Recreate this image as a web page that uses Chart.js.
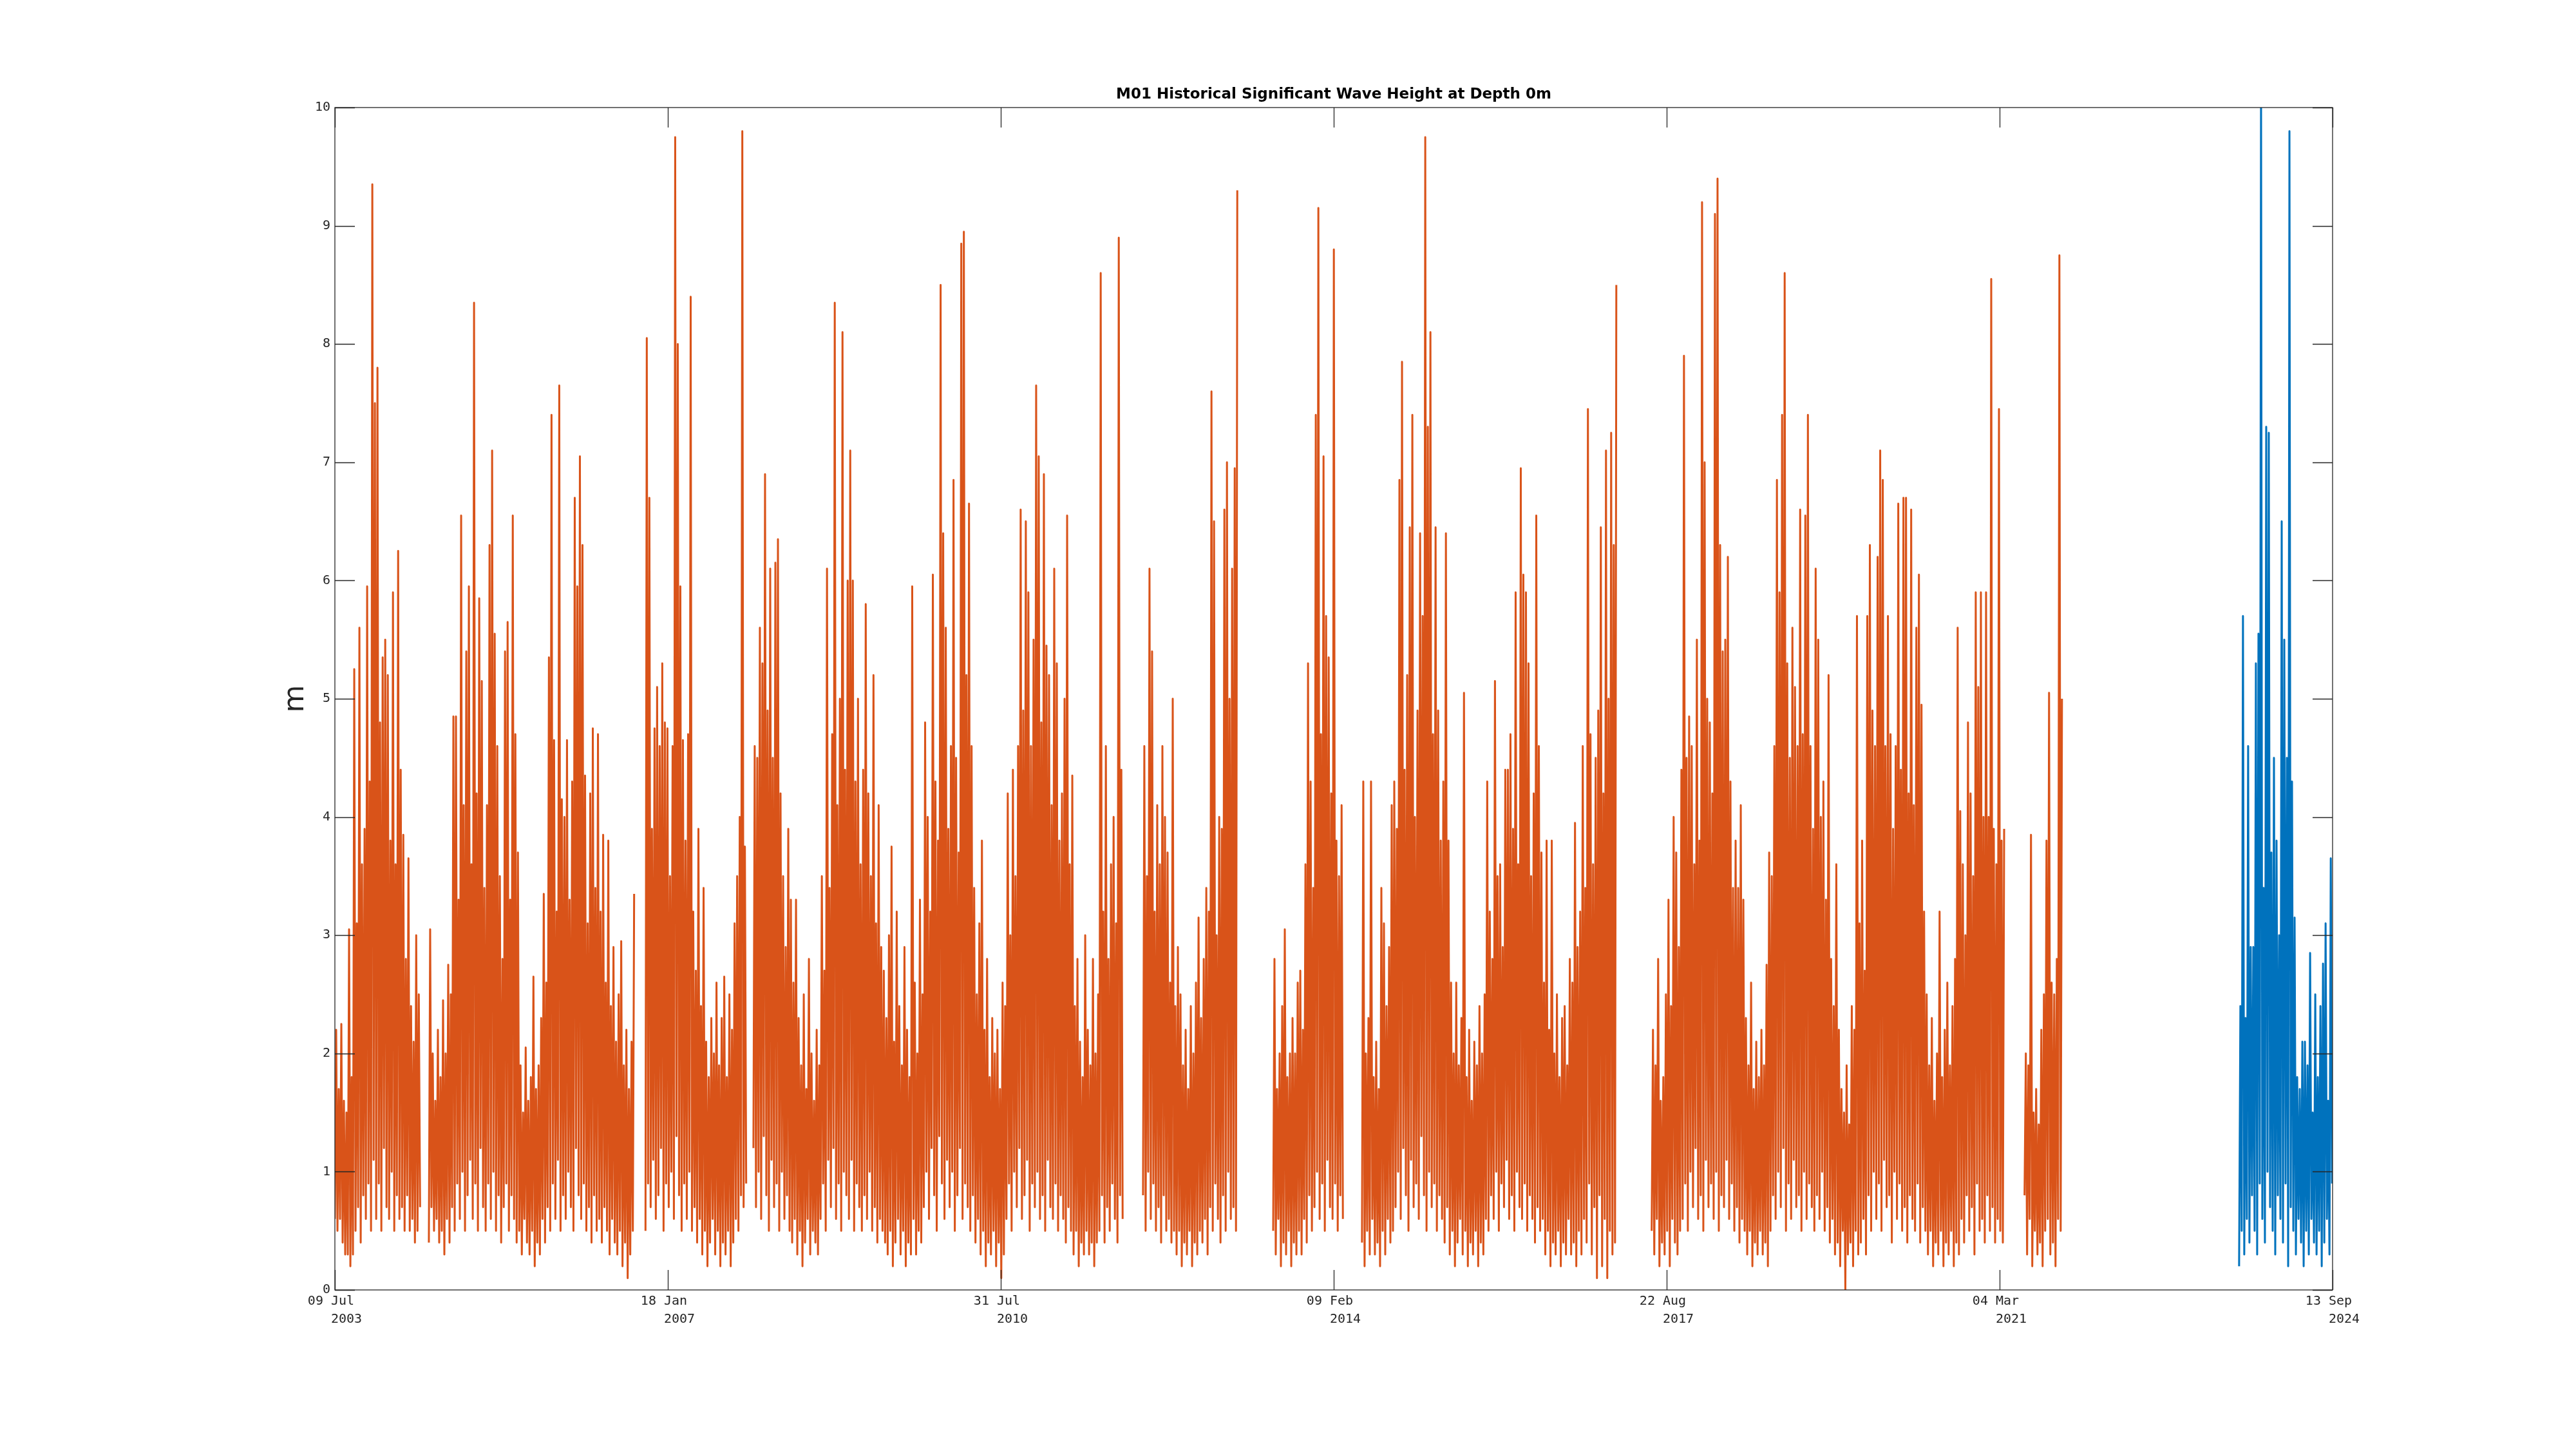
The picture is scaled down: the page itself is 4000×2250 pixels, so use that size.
<!DOCTYPE html>
<html lang="en">
<head>
<meta charset="UTF-8">
<title>M01 Historical Significant Wave Height</title>
<script src="https://cdn.jsdelivr.net/npm/chart.js"></script>
<style>
  html, body { margin: 0; padding: 0; background: #fff; }
  #chart { display: block; }
</style>
</head>
<body>
<canvas id="chart" width="4000" height="2250"></canvas>
<script>
  // x values are days counted from 09 Jul 2003
  // each block alternates trough / crest, one value every 5 days
  const sampleDays = 5;

  const tickDays = [0, 1289.5, 2579, 3868.5, 5158, 6447.5, 7737];
  const tickDates = ['09 Jul', '18 Jan', '31 Jul', '09 Feb', '22 Aug', '04 Mar', '13 Sep'];
  const tickYears = ['2003', '2007', '2010', '2014', '2017', '2021', '2024'];

  // ---- historical record (orange) ----
  const startJul2003 = 0;
  const lowJul2003 = [0.6,0.5,0.6,0.4,0.3,0.3,0.2,0.3,0.5,0.7,0.4,0.8,0.6,0.9,0.5,1.1,0.6,0.9,0.5,1.2,0.7,0.6,1.0,0.5,0.8,0.6,0.7,0.5,0.8,0.5,0.6,0.4,0.5,0.7];
  const highJul2003 = [2.2,1.7,2.25,1.6,1.5,3.05,1.8,5.25,3.1,5.6,3.6,3.9,5.95,4.3,9.35,7.5,7.8,4.8,5.35,5.5,5.2,3.8,5.9,3.6,6.25,4.4,3.85,2.8,3.65,2.4,2.1,3.0,2.5];

  const startJul2004 = 364;
  const lowJul2004 = [0.4,0.7,0.5,0.6,0.4,0.5,0.3,0.6,0.4,0.7,
    0.5,0.9,0.6,1.0,0.5,0.8,1.1,0.6,0.9,0.5,
    1.2,0.7,0.5,0.9,0.6,1.0,0.5,0.8,0.4,0.7,
    0.9,0.5,0.8,0.6,0.4,0.5,0.3,0.6,0.4,0.3,
    0.5,0.2,0.4,0.3,0.6,0.4,0.7,0.5,0.9,0.6,
    1.1,0.5,0.8,0.6,1.0,0.7,0.5,1.2,0.8,0.6,
    0.9,0.5,0.7,0.4,0.8,0.5,0.6,0.4,0.7,0.5,
    0.3,0.6,0.4,0.3,0.5,0.2,0.4,0.1,0.3,0.5];
  const highJul2004 = [3.05,2.0,1.6,2.2,1.8,2.45,2.0,2.75,2.5,4.85,
    4.85,3.3,6.55,4.1,5.4,5.95,3.6,8.35,4.2,5.85,
    5.15,3.4,4.1,6.3,7.1,5.55,4.6,3.5,2.8,5.4,
    5.65,3.3,6.55,4.7,3.7,1.9,1.5,2.05,1.6,1.8,
    2.65,1.7,1.9,2.3,3.35,2.6,5.35,7.4,4.65,3.2,
    7.65,4.15,4.0,4.65,3.3,4.3,6.7,5.95,7.05,6.3,
    4.35,3.1,4.2,4.75,3.4,4.7,3.2,3.85,2.6,3.8,
    2.4,2.9,2.1,2.5,2.95,1.9,2.2,1.7,2.1,3.35];

  const startOct2006 = 1203;
  const lowOct2006 = [0.5,0.9,0.7,1.1,0.6,0.8,1.2,0.5,0.9,0.7,1.0,0.6,1.3,0.8,0.5,0.9,0.6,1.0,0.5,0.7,
    0.4,0.6,0.3,0.5,0.2,0.4,0.6,0.3,0.5,0.2,0.4,0.3,0.5,0.2,0.4,0.6,0.5,0.8,0.7,0.9];
  const highOct2006 = [8.05,6.7,3.9,4.75,5.1,4.6,5.3,4.8,4.75,3.5,4.6,9.75,8.0,5.95,4.65,3.8,4.7,8.4,3.2,2.7,
    3.9,2.4,3.4,2.1,1.8,2.3,2.0,2.6,1.9,2.3,2.65,1.8,2.5,2.2,3.1,3.5,4.0,9.8,3.75];

  const startDec2007 = 1621;
  const lowDec2007 = [1.2,0.7,1.0,0.6,1.3,0.8,0.5,1.1,0.7,0.9,0.5,1.0,0.6,0.8,0.5,
    0.4,0.6,0.3,0.5,0.2,0.4,0.6,0.3,0.5,0.4,0.3,
    0.6,0.9,0.5,1.1,0.7,1.2,0.6,0.9,0.5,1.0,0.8,0.6,1.1,0.5,0.9,0.7,0.5,0.8,0.6,1.0,0.5,0.7,0.4,0.6,0.5,0.4,
    0.3,0.5,0.2,0.4,0.6,0.3,0.5,0.2,0.4,0.3,0.6,0.3,0.5,0.4,
    0.7,1.0,0.6,1.2,0.8,0.5,1.3,0.9,0.6,1.1,0.7,1.0,0.5,0.8,1.2,0.6,0.9,0.7,0.5,0.8,0.4,0.6,
    0.3,0.5,0.2,0.4,0.3,0.5,0.2,0.4,0.1,0.3,
    0.6,0.9,0.5,1.0,0.7,1.2,0.6,0.8,1.1,0.5,0.9,0.7,1.0,0.6,0.8,0.5,1.1,0.7,0.6,0.9,0.5,0.8,0.6,0.4,0.7,0.5,
    0.3,0.5,0.2,0.4,0.3,0.5,0.3,0.4,0.2,0.4,
    0.5,0.8,0.4,0.7,0.5,0.9,0.6,0.4,0.8,0.6];
  const highDec2007 = [4.6,4.5,5.6,5.3,6.9,4.9,6.1,4.5,6.15,6.35,
    4.2,3.5,2.9,3.9,3.3,2.6,3.3,2.3,1.9,2.5,
    1.7,2.8,2.0,1.6,2.2,1.9,3.5,2.7,6.1,3.4,
    4.7,8.35,4.1,5.0,8.1,4.4,6.0,7.1,6.0,4.3,
    5.0,3.6,4.4,5.8,4.2,3.5,5.2,3.1,4.1,2.9,
    2.7,2.3,3.0,3.75,2.1,3.2,2.4,1.9,2.9,2.2,
    1.8,5.95,2.6,2.0,3.3,2.5,4.8,4.0,3.2,6.05,
    4.3,3.8,8.5,6.4,5.6,3.9,4.6,6.85,4.5,3.7,
    8.85,8.95,5.2,6.65,4.6,3.4,2.5,3.1,3.8,2.2,
    2.8,1.8,2.3,2.0,2.2,1.7,2.6,2.4,4.2,3.0,
    4.4,3.5,4.6,6.6,4.9,6.5,5.9,4.6,5.5,7.65,
    7.05,4.8,6.9,5.45,5.2,4.1,6.1,5.3,3.8,4.2,
    5.0,6.55,3.6,4.35,2.4,2.8,2.1,1.8,3.0,2.2,
    1.9,2.8,2.0,2.5,8.6,3.2,4.6,2.8,3.6,4.0,
    3.1,8.9,4.4];

  const startFeb2012 = 3130;
  const lowFeb2012 = [0.8,0.5,1.0,0.6,0.9,0.5,0.7,0.4,0.8,0.5,0.6,0.4,0.5,0.3,0.5,0.2,0.4,0.3,0.5,0.2,
    0.4,0.3,0.5,0.4,0.6,0.3,0.7,0.5,0.9,0.6,0.4,0.8,0.5,1.0,0.6,0.7,0.5];
  const highFeb2012 = [4.6,3.5,6.1,5.4,3.2,4.1,3.6,4.6,4.0,3.7,2.6,5.0,2.4,2.9,2.5,1.9,2.2,1.7,2.4,2.0,
    2.6,3.15,2.3,2.8,3.4,3.2,7.6,6.5,3.0,4.0,3.9,6.6,7.0,5.0,6.1,6.95,9.3];

  const startJun2013 = 3634;
  const lowJun2013 = [0.5,0.3,0.6,0.2,0.4,0.3,0.5,0.2,0.4,0.3,0.5,0.3,0.6,0.4,0.8,0.5,0.7,1.0,0.6,0.9,
    0.5,1.1,0.7,0.6,0.9,0.5,0.8,0.6];
  const highJun2013 = [2.8,1.7,2.0,2.4,3.05,1.8,2.0,2.3,2.0,2.6,2.7,2.2,3.6,5.3,4.3,3.4,7.4,9.15,4.7,7.05,
    5.7,5.35,4.2,8.8,3.8,3.5,4.1];

  const startMay2014 = 3978;
  const lowMay2014 = [0.4,0.2,0.5,0.3,0.6,0.3,0.4,0.2,0.5,0.3,0.6,0.4,0.5,
    0.7,1.0,0.6,1.2,0.8,0.5,1.1,0.7,0.9,0.6,1.3,0.8,0.5,1.0,0.7,0.9,0.5,0.8,0.6,0.4,0.7,
    0.3,0.5,0.2,0.4,0.6,0.3,0.5,0.2,0.4,0.3,0.5,0.2,0.4,0.3,0.6,
    0.5,0.8,0.6,1.0,0.5,0.9,0.7,1.1,0.6,0.8,0.5,1.0,0.7,0.6,0.9,0.5,0.8,0.6,0.4,0.7,0.5,0.6,
    0.3,0.5,0.2,0.4,0.3,0.5,0.2,0.4,0.3,0.6,0.3,0.4,0.2,0.5,0.3,
    0.6,0.4,0.9,0.3,0.7,0.1,0.8,0.2,0.6,0.1,0.5,0.3,0.4];
  const highMay2014 = [4.3,2.0,2.3,4.3,1.8,2.1,1.7,3.4,3.1,2.4,
    2.9,4.1,4.3,3.9,6.85,7.85,4.4,5.2,6.45,7.4,
    4.0,4.9,6.4,5.7,9.75,7.3,8.1,4.7,6.45,4.9,
    3.8,4.3,6.4,3.8,2.6,2.0,2.6,1.9,2.3,5.05,
    1.8,2.2,1.6,2.1,1.9,2.4,2.0,2.5,4.3,3.2,
    2.8,5.15,3.5,3.6,2.9,4.4,4.4,4.7,3.9,5.9,
    3.6,6.95,6.05,5.9,5.3,3.5,4.2,6.55,4.6,3.7,
    2.6,3.8,2.2,3.8,2.0,2.5,1.8,2.3,2.4,1.9,
    2.8,2.6,3.95,2.9,3.2,4.6,3.4,7.45,4.7,3.6,
    4.5,4.9,6.45,4.2,7.1,5.0,7.25,6.3,8.5];

  const startJun2017 = 5100;
  const lowJun2017 = [0.5,0.3,0.6,0.2,0.4,0.3,0.5,0.2,0.6,0.4,0.3,0.5,
    0.6,0.9,0.5,1.0,0.7,1.2,0.6,0.8,0.5,1.1,0.7,0.9,0.6,1.0,0.5,0.8,0.7,1.1,0.6,0.9,0.5,0.7,0.4,0.6,0.5,
    0.3,0.5,0.2,0.4,0.3,0.5,0.3,0.4,0.2,
    0.5,0.8,0.6,1.0,0.7,1.2,0.5,0.9,0.6,1.1,0.7,0.8,0.5,1.0,0.6,0.9,0.7,0.5,0.8,0.6,1.0,0.5,0.7,0.4,0.6,0.3,
    0.4,0.2,0.5,0.0,0.3,0.4,0.2,0.5,0.3,
    0.4,0.6,0.3,0.8,0.5,1.0,0.6,0.9,0.5,1.1,0.7,0.8,0.4,1.0,0.6,0.9,0.5,0.7,0.4,0.8,0.6,0.5,0.9,0.4,0.7,0.5,0.3,
    0.5,0.2,0.4,0.3,0.5,0.2,0.4,0.3,0.5,0.2,0.4,0.3,
    0.6,0.4,0.8,0.5,0.7,0.3,0.9,0.5,0.6,0.4,0.8,0.5,0.7,0.4,0.6,0.5,0.4];
  const highJun2017 = [2.2,1.9,2.8,1.6,1.8,2.5,3.3,2.4,4.0,3.7,
    2.9,4.4,7.9,4.5,4.85,4.6,3.6,5.5,3.8,9.2,
    7.0,5.0,4.8,4.2,9.1,9.4,6.3,5.4,5.5,6.2,
    4.3,3.4,3.8,3.4,4.1,3.3,2.3,1.9,2.6,1.7,
    2.1,1.8,2.2,1.9,2.75,3.7,3.5,4.6,6.85,5.9,
    7.4,8.6,5.3,4.5,5.6,5.1,4.6,6.6,4.7,6.55,
    7.4,4.6,3.9,6.1,5.5,4.0,4.3,3.3,5.2,2.8,
    2.4,3.6,2.2,1.7,1.5,1.9,1.4,2.4,2.2,5.7,
    3.1,3.8,2.7,5.7,6.3,4.9,4.6,6.2,7.1,6.85,
    4.6,5.7,4.7,3.9,4.6,6.65,4.4,6.7,6.7,4.2,
    6.6,4.1,5.6,6.05,4.95,3.2,2.5,1.9,2.3,1.6,
    2.0,3.2,1.8,2.2,2.6,1.9,2.4,2.8,5.6,4.05,
    3.6,3.0,4.8,4.2,3.5,5.9,5.1,5.9,4.0,5.9,
    4.0,8.55,3.9,3.6,7.45,3.8,3.9];

  const startJun2021 = 6544;
  const lowJun2021 = [0.8,0.3,0.6,0.2,0.5,0.3,0.4,0.2,0.5,0.6,0.3,0.4,0.2,0.6,0.5];
  const highJun2021 = [2.0,1.9,3.85,1.5,1.7,1.4,2.2,2.5,3.8,5.05,2.6,2.5,2.8,8.75,5.0];

  // ---- recent record (blue) ----
  const startSep2023 = 7375;
  const lowSep2023 = [0.2,0.5,0.3,0.6,0.4,0.8,0.5,0.3,0.9,0.6,0.4,1.0,0.7,0.5,0.3,0.8,0.6,0.4,0.9,0.2,
    0.7,0.5,0.3,0.6,0.4,0.2,0.5,0.3,0.6,0.4,0.3,0.5,0.2,0.4,0.6,0.3,0.9];
  const highSep2023 = [2.4,5.7,2.3,4.6,2.9,2.9,5.3,5.55,10.2,3.4,7.3,7.25,3.7,4.5,3.8,3.0,6.5,5.5,4.5,9.8,
    4.3,3.15,1.8,1.7,2.1,2.1,1.9,2.85,1.5,2.5,1.8,2.4,2.76,3.1,1.6,3.65];

  const historical = [
    [startJul2003, lowJul2003, highJul2003],
    [startJul2004, lowJul2004, highJul2004],
    [startOct2006, lowOct2006, highOct2006],
    [startDec2007, lowDec2007, highDec2007],
    [startFeb2012, lowFeb2012, highFeb2012],
    [startJun2013, lowJun2013, highJun2013],
    [startMay2014, lowMay2014, highMay2014],
    [startJun2017, lowJun2017, highJun2017],
    [startJun2021, lowJun2021, highJun2021]
  ];
  const recent = [[startSep2023, lowSep2023, highSep2023]];

  // interleave troughs and crests, break the line between blocks
  function buildSeries(blocks) {
    var pts = [];
    blocks.forEach(function (b) {
      var start = b[0], lo = b[1], hi = b[2];
      var n = Math.max(lo.length, hi.length);
      for (var k = 0; k < n; k++) {
        if (k < lo.length) pts.push({ x: start + 2 * sampleDays * k, y: lo[k] });
        if (k < hi.length) pts.push({ x: start + 2 * sampleDays * k + sampleDays, y: hi[k] });
      }
      pts.push({ x: start + 2 * sampleDays * n + 1, y: null });
    });
    return pts;
  }

  const axisColor = '#262626';

  // box around the axes and inward tick marks on all four sides
  const axesBox = {
    id: 'axesBox',
    afterDraw(chart) {
      const ctx = chart.ctx;
      const a = chart.chartArea;
      const x = chart.scales.x;
      const y = chart.scales.y;
      const len = 31;
      ctx.save();
      ctx.strokeStyle = axisColor;
      ctx.lineWidth = 1.3;
      ctx.strokeRect(a.left, a.top, a.right - a.left, a.bottom - a.top);
      ctx.beginPath();
      y.ticks.forEach(function (t) {
        const py = Math.round(y.getPixelForValue(t.value)) + 0.5;
        ctx.moveTo(a.left, py); ctx.lineTo(a.left + len, py);
        ctx.moveTo(a.right, py); ctx.lineTo(a.right - len, py);
      });
      x.ticks.forEach(function (t) {
        const px = Math.round(x.getPixelForValue(t.value)) + 0.5;
        ctx.moveTo(px, a.bottom); ctx.lineTo(px, a.bottom - len);
        ctx.moveTo(px, a.top); ctx.lineTo(px, a.top + len);
      });
      ctx.stroke();
      ctx.restore();
    }
  };

  new Chart(document.getElementById('chart'), {
    type: 'line',
    data: {
      datasets: [
        {
          label: 'historical',
          data: buildSeries(historical),
          borderColor: '#D95319',
          borderWidth: 3,
          borderJoinStyle: 'round',
          pointRadius: 0,
          spanGaps: false,
          tension: 0
        },
        {
          label: 'recent',
          data: buildSeries(recent),
          borderColor: '#0072BD',
          borderWidth: 3,
          borderJoinStyle: 'round',
          pointRadius: 0,
          spanGaps: false,
          tension: 0
        }
      ]
    },
    options: {
      responsive: false,
      animation: false,
      events: [],
      layout: { padding: { left: 0, right: 378, top: 0, bottom: 0 } },
      plugins: {
        legend: { display: false },
        tooltip: { enabled: false },
        title: {
          display: true,
          text: 'M01 Historical Significant Wave Height at Depth 0m',
          fullSize: false,
          color: '#000',
          font: { family: 'DejaVu Sans', size: 23, weight: 'bold', lineHeight: 1.2 },
          padding: { top: 133, bottom: 6.4 }
        }
      },
      scales: {
        x: {
          type: 'linear',
          min: 0,
          max: 7737,
          grid: { display: false, drawTicks: false },
          border: { display: false },
          afterBuildTicks: function (s) { s.ticks = tickDays.map(function (v) { return { value: v }; }); },
          afterFit: function (s) { s.height = 247; },
          ticks: {
            autoSkip: false,
            maxRotation: 0,
            padding: 4,
            color: axisColor,
            font: { family: 'DejaVu Sans Mono', size: 20, lineHeight: 1.4 },
            callback: function (v, i) { return [tickDates[i] + ' ', '   ' + tickYears[i]]; }
          }
        },
        y: {
          min: 0,
          max: 10,
          grid: { display: false, drawTicks: false },
          border: { display: false },
          afterFit: function (s) { s.width = 520; },
          ticks: {
            stepSize: 1,
            padding: 7,
            color: axisColor,
            font: { family: 'DejaVu Sans Mono', size: 20 }
          },
          title: {
            display: true,
            text: 'm',
            color: axisColor,
            font: { family: 'DejaVu Sans', size: 44, lineHeight: 1.2 },
            padding: { top: 433, bottom: 0 }
          }
        }
      }
    },
    plugins: [axesBox]
  });
</script>
</body>
</html>
